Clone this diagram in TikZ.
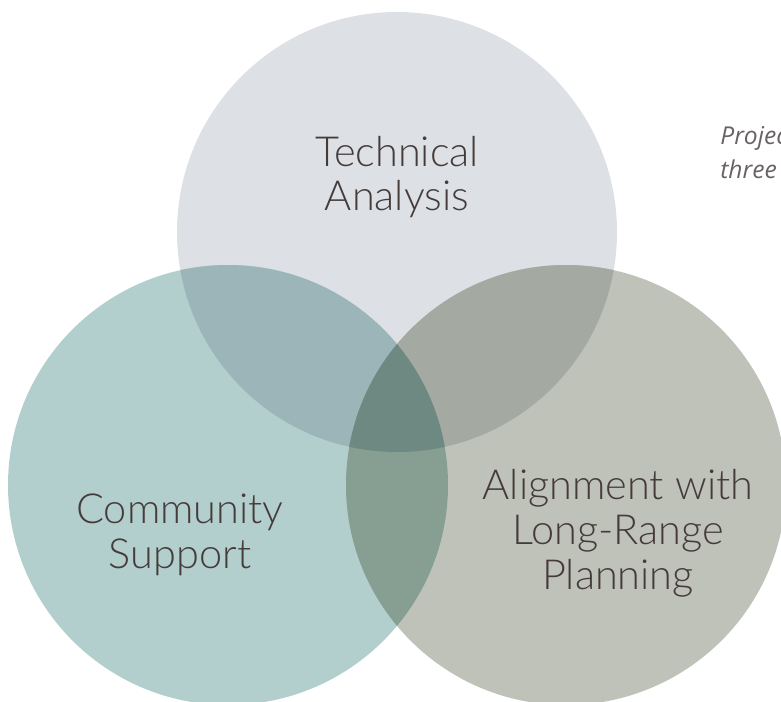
\documentclass[tikz,border=0pt]{standalone}
\usepackage{fontspec}
\IfFontExistsTF{Lato Light}{\newfontfamily\vennfont{Lato Light}}{\newfontfamily\vennfont{Lato}}
\newfontfamily\notefont{Open Sans}
\usepackage{xcolor}
\usetikzlibrary{positioning}

\definecolor{techfill}{HTML}{DDE0E5}
\definecolor{commfill}{HTML}{B2CFCE}
\definecolor{planfill}{HTML}{BFC2B8}
\definecolor{techcomm}{HTML}{9CB5B9}
\definecolor{techplan}{HTML}{A4A9A1}
\definecolor{commplan}{HTML}{879E92}
\definecolor{allthree}{HTML}{6E8882}
\definecolor{labeltext}{HTML}{453C3A}
\definecolor{notetext}{HTML}{6A6262}

\begin{document}
\begin{tikzpicture}[
  x=0.02cm, y=-0.02cm,
  lbl/.style={align=center, text=labeltext, inner sep=0pt, anchor=base,
    font=\vennfont\fontsize{23.6}{25.4}\selectfont},
  note/.style={align=left, text=notetext, inner sep=0pt, anchor=base west,
    font=\notefont\itshape\fontsize{14}{19.4}\selectfont}
]
\useasboundingbox (0,0) rectangle (781,702);

% Circle centres
\coordinate (tech) at (397,232);
\coordinate (comm) at (228,485);
\coordinate (plan) at (566,485);

% Base circles
\fill[techfill] (tech) circle (220);
\fill[commfill] (comm) circle (220);
\fill[planfill] (plan) circle (220);

% Pairwise overlaps
\begin{scope}
  \clip (tech) circle (220);
  \fill[techcomm] (comm) circle (220);
  \fill[techplan] (plan) circle (220);
\end{scope}
\begin{scope}
  \clip (comm) circle (220);
  \fill[commplan] (plan) circle (220);
\end{scope}

% Centre overlap
\begin{scope}
  \clip (tech) circle (220);
  \clip (comm) circle (220);
  \fill[allthree] (plan) circle (220);
\end{scope}

% Labels (anchored on the last line)
\node[lbl] (techlbl) at (397,211) {Technical\\Analysis};
\node[lbl] (commlbl) at (180,568) {Community\\Support};
\node[lbl] (planlbl) at (618,589) {Alignment with\\Long-Range\\Planning};

% Side note (cut off at the edge)
\node[note] (sidenote) at (720,179) {Project\\three};

\end{tikzpicture}
\end{document}
